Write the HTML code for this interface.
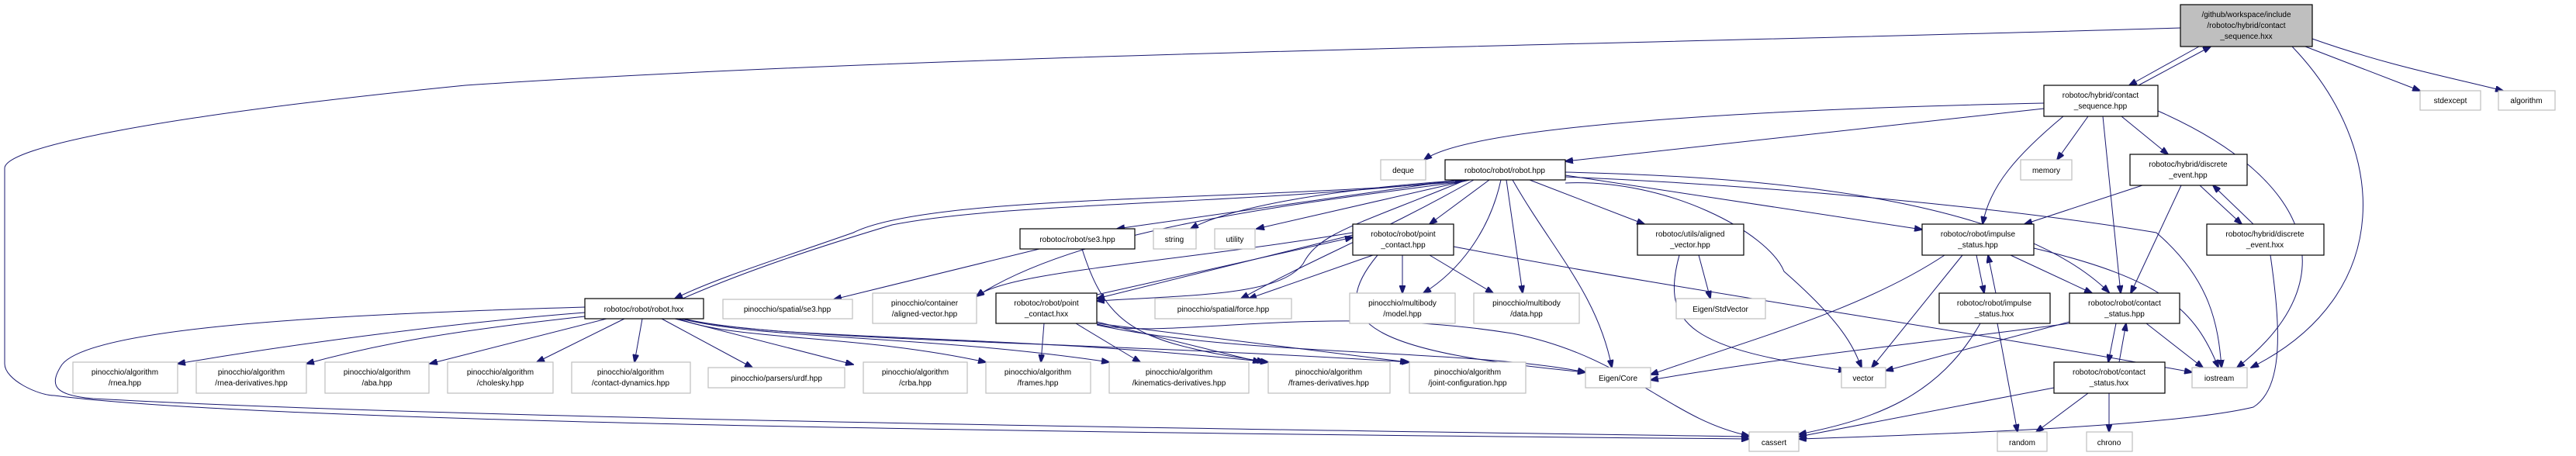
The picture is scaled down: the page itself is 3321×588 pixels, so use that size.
<!DOCTYPE html>
<html><head><meta charset="utf-8"><style>
html,body{margin:0;padding:0;background:#fff;}
svg{display:block;}
text{font-family:"Liberation Sans",Arial,sans-serif;font-size:10px;fill:#000;}
.e{fill:none;stroke:#191970;stroke-width:1;}
.n{fill:#fff;stroke:#000;stroke-width:1.2;}
.g{fill:#fff;stroke:#bfbfbf;stroke-width:1.2;}
</style></head><body>
<svg width="3321" height="588" viewBox="0 0 3321 588" xmlns="http://www.w3.org/2000/svg">
<defs><marker id="a" markerWidth="11" markerHeight="8" refX="10" refY="4" orient="auto" markerUnits="userSpaceOnUse"><path d="M0,0 L11,4 L0,8 z" fill="#191970" stroke="#191970"/></marker></defs>
<g marker-end="url(#a)">
<!-- top node edges -->
<path class="e" d="M2835,60 L2745,110"/>
<path class="e" d="M2757,110 L2850,60"/>
<path class="e" d="M2972,60 L3120,117"/>
<path class="e" d="M2981,50 C3080,85 3160,100 3227,117"/>
<path class="e" d="M2955,60 C3080,190 3090,380 2902,474"/>
<path class="e" d="M2811,36 C2000,60 1200,70 600,110 C200,150 6,190 6,217 L6,469 C6,490 50,510 70,510 C300,540 1100,556 2255,566"/>
<!-- contact_sequence.hpp -->
<path class="e" d="M2635,133 C2300,140 1900,160 1836,206"/>
<path class="e" d="M2635,140 L2018,208"/>
<path class="e" d="M2692,150 L2652,206"/>
<path class="e" d="M2735,150 L2795,199"/>
<path class="e" d="M2660,150 C2600,200 2565,240 2556,289"/>
<path class="e" d="M2711,150 L2734,378"/>
<path class="e" d="M2782,143 C2980,230 3030,360 2884,474"/>
<!-- discrete event -->
<path class="e" d="M2762,239 L2610,289"/>
<path class="e" d="M2812,239 L2747,378"/>
<path class="e" d="M2836,239 L2890,289"/>
<path class="e" d="M2905,289 L2853,239"/>
<path class="e" d="M2927,329 C2940,420 2945,500 2905,525 C2800,550 2500,560 2319,566"/>
<!-- impulse status -->
<path class="e" d="M2548,329 L2558,378"/>
<path class="e" d="M2573,378 L2563,329"/>
<path class="e" d="M2592,329 L2697,378"/>
<path class="e" d="M2530,329 L2413,474"/>
<path class="e" d="M2507,329 C2400,400 2250,440 2128,483"/>
<path class="e" d="M2622,320 C2790,360 2830,400 2860,474"/>
<path class="e" d="M2575,417 L2601,557"/>
<path class="e" d="M2553,417 C2500,510 2420,540 2319,560"/>
<!-- contact status -->
<path class="e" d="M2728,417 L2718,467"/>
<path class="e" d="M2732,467 L2741,417"/>
<path class="e" d="M2767,417 L2840,474"/>
<path class="e" d="M2668,415 L2431,478"/>
<path class="e" d="M2668,417 C2500,440 2300,460 2128,490"/>
<path class="e" d="M2648,500 L2319,563"/>
<path class="e" d="M2692,507 L2625,557"/>
<path class="e" d="M2719,507 L2719,557"/>
<!-- robot.hpp -->
<path class="e" d="M1883,234 C1600,260 1200,250 1100,300 C1000,335 920,360 870,385"/>
<path class="e" d="M880,385 C960,350 1050,320 1150,290 C1300,260 1600,265 1886,232"/>
<path class="e" d="M1880,232 L1440,295"/>
<path class="e" d="M1890,232 C1700,245 1580,270 1535,295"/>
<path class="e" d="M1895,232 L1620,295"/>
<path class="e" d="M1920,232 L1843,289"/>
<path class="e" d="M1890,232 C1750,290 1700,300 1680,340 C1650,380 1550,380 1414,388"/>
<path class="e" d="M1900,232 C1780,300 1700,330 1600,385"/>
<path class="e" d="M1935,232 C1920,300 1880,350 1835,378"/>
<path class="e" d="M1942,232 L1963,378"/>
<path class="e" d="M1950,232 C2000,320 2060,380 2078,474"/>
<path class="e" d="M1972,232 L2120,289"/>
<path class="e" d="M2018,226 L2478,296"/>
<path class="e" d="M2018,222 C2300,228 2600,260 2719,377"/>
<path class="e" d="M2018,228 C2300,240 2600,270 2780,300 C2850,360 2860,420 2864,474"/>
<path class="e" d="M2018,236 C2150,230 2280,300 2300,350 C2380,420 2390,450 2400,474"/>
<path class="e" d="M1886,234 C1700,260 1400,290 1259,382"/>
<!-- robot.hxx fan -->
<path class="e" d="M754,396 C450,405 120,420 80,470 C60,500 75,510 120,514 C600,540 1500,552 2255,563"/>
<path class="e" d="M754,403 C600,415 400,440 229,469"/>
<path class="e" d="M754,408 C600,425 500,440 395,469"/>
<path class="e" d="M782,411 L554,469"/>
<path class="e" d="M805,411 L692,467"/>
<path class="e" d="M828,411 L818,467"/>
<path class="e" d="M853,411 L970,474"/>
<path class="e" d="M870,411 L1100,470"/>
<path class="e" d="M875,411 C950,440 1100,430 1271,467"/>
<path class="e" d="M878,411 C980,438 1200,432 1430,467"/>
<path class="e" d="M880,411 C1000,440 1300,430 1635,467"/>
<path class="e" d="M882,411 C1000,440 1400,440 1817,467"/>
<!-- robot/se3.hpp -->
<path class="e" d="M1340,321 L1075,386"/>
<path class="e" d="M1395,321 C1420,400 1450,430 1540,450 C1580,460 1610,462 1630,467"/>
<!-- point_contact.hpp -->
<path class="e" d="M1744,300 C1500,340 1300,350 1259,382"/>
<path class="e" d="M1744,303 L1414,385"/>
<path class="e" d="M1414,380 L1744,306"/>
<path class="e" d="M1770,329 L1610,385"/>
<path class="e" d="M1808,329 L1808,378"/>
<path class="e" d="M1843,329 L1925,378"/>
<path class="e" d="M1776,329 C1700,420 1780,455 2044,480"/>
<path class="e" d="M1874,318 C2200,380 2500,420 2826,480"/>
<!-- point_contact.hxx -->
<path class="e" d="M1346,417 L1342,467"/>
<path class="e" d="M1387,417 L1470,467"/>
<path class="e" d="M1414,415 L1625,467"/>
<path class="e" d="M1414,417 L1815,467"/>
<path class="e" d="M1414,419 C1600,460 1900,450 2044,480"/>
<path class="e" d="M1414,418 C1500,440 1700,390 1950,430 C2100,460 2150,540 2255,562"/>
<!-- aligned vector utils -->
<path class="e" d="M2190,329 L2205,385"/>
<path class="e" d="M2165,329 C2140,420 2180,450 2380,478"/>
</g>
<!-- nodes -->
<rect x="2811" y="6" width="170" height="54" fill="#bfbfbf" stroke="#000" stroke-width="1.2"/>
<text x="2896" y="22" text-anchor="middle">/github/workspace/include</text>
<text x="2896" y="36" text-anchor="middle">/robotoc/hybrid/contact</text>
<text x="2896" y="50" text-anchor="middle">_sequence.hxx</text>
<rect class="n" x="2635" y="110" width="147" height="40"/><text x="2708" y="126" text-anchor="middle">robotoc/hybrid/contact</text><text x="2708" y="140" text-anchor="middle">_sequence.hpp</text>
<rect class="g" x="3120" y="117" width="78" height="25"/><text x="3159" y="133" text-anchor="middle">stdexcept</text>
<rect class="g" x="3221" y="117" width="73" height="25"/><text x="3257" y="133" text-anchor="middle">algorithm</text>
<rect class="g" x="1780" y="206" width="58" height="26"/><text x="1809" y="223" text-anchor="middle">deque</text>
<rect class="n" x="1863" y="206" width="155" height="26"/><text x="1940" y="223" text-anchor="middle">robotoc/robot/robot.hpp</text>
<rect class="g" x="2605" y="206" width="66" height="26"/><text x="2638" y="223" text-anchor="middle">memory</text>
<rect class="n" x="2746" y="199" width="151" height="40"/><text x="2821" y="215" text-anchor="middle">robotoc/hybrid/discrete</text><text x="2821" y="229" text-anchor="middle">_event.hpp</text>
<rect class="n" x="1315" y="295" width="148" height="26"/><text x="1389" y="312" text-anchor="middle">robotoc/robot/se3.hpp</text>
<rect class="g" x="1487" y="295" width="55" height="26"/><text x="1514" y="312" text-anchor="middle">string</text>
<rect class="g" x="1566" y="295" width="52" height="26"/><text x="1592" y="312" text-anchor="middle">utility</text>
<rect class="n" x="1744" y="289" width="130" height="40"/><text x="1809" y="305" text-anchor="middle">robotoc/robot/point</text><text x="1809" y="319" text-anchor="middle">_contact.hpp</text>
<rect class="n" x="2111" y="289" width="137" height="40"/><text x="2179" y="305" text-anchor="middle">robotoc/utils/aligned</text><text x="2179" y="319" text-anchor="middle">_vector.hpp</text>
<rect class="n" x="2478" y="289" width="144" height="40"/><text x="2550" y="305" text-anchor="middle">robotoc/robot/impulse</text><text x="2550" y="319" text-anchor="middle">_status.hpp</text>
<rect class="n" x="2845" y="289" width="151" height="40"/><text x="2920" y="305" text-anchor="middle">robotoc/hybrid/discrete</text><text x="2920" y="319" text-anchor="middle">_event.hxx</text>
<rect class="n" x="754" y="385" width="153" height="26"/><text x="830" y="402" text-anchor="middle">robotoc/robot/robot.hxx</text>
<rect class="g" x="932" y="386" width="167" height="25"/><text x="1015" y="402" text-anchor="middle">pinocchio/spatial/se3.hpp</text>
<rect class="g" x="1125" y="378" width="134" height="39"/><text x="1192" y="394" text-anchor="middle">pinocchio/container</text><text x="1192" y="408" text-anchor="middle">/aligned-vector.hpp</text>
<rect class="n" x="1284" y="378" width="130" height="39"/><text x="1349" y="394" text-anchor="middle">robotoc/robot/point</text><text x="1349" y="408" text-anchor="middle">_contact.hxx</text>
<rect class="g" x="1489" y="385" width="176" height="26"/><text x="1577" y="402" text-anchor="middle">pinocchio/spatial/force.hpp</text>
<rect class="g" x="1740" y="378" width="136" height="39"/><text x="1808" y="394" text-anchor="middle">pinocchio/multibody</text><text x="1808" y="408" text-anchor="middle">/model.hpp</text>
<rect class="g" x="1900" y="378" width="136" height="39"/><text x="1968" y="394" text-anchor="middle">pinocchio/multibody</text><text x="1968" y="408" text-anchor="middle">/data.hpp</text>
<rect class="g" x="2161" y="385" width="115" height="26"/><text x="2218" y="402" text-anchor="middle">Eigen/StdVector</text>
<rect class="n" x="2500" y="378" width="143" height="39"/><text x="2571" y="394" text-anchor="middle">robotoc/robot/impulse</text><text x="2571" y="408" text-anchor="middle">_status.hxx</text>
<rect class="n" x="2668" y="378" width="142" height="39"/><text x="2739" y="394" text-anchor="middle">robotoc/robot/contact</text><text x="2739" y="408" text-anchor="middle">_status.hpp</text>
<g text-anchor="middle">
<rect class="g" x="94" y="467" width="135" height="40"/><text x="161" y="483">pinocchio/algorithm</text><text x="161" y="497">/rnea.hpp</text>
<rect class="g" x="253" y="467" width="142" height="40"/><text x="324" y="483">pinocchio/algorithm</text><text x="324" y="497">/rnea-derivatives.hpp</text>
<rect class="g" x="419" y="467" width="134" height="40"/><text x="486" y="483">pinocchio/algorithm</text><text x="486" y="497">/aba.hpp</text>
<rect class="g" x="577" y="467" width="136" height="40"/><text x="645" y="483">pinocchio/algorithm</text><text x="645" y="497">/cholesky.hpp</text>
<rect class="g" x="737" y="467" width="153" height="40"/><text x="813" y="483">pinocchio/algorithm</text><text x="813" y="497">/contact-dynamics.hpp</text>
<rect class="g" x="913" y="474" width="176" height="26"/><text x="1001" y="491">pinocchio/parsers/urdf.hpp</text>
<rect class="g" x="1113" y="467" width="134" height="40"/><text x="1180" y="483">pinocchio/algorithm</text><text x="1180" y="497">/crba.hpp</text>
<rect class="g" x="1271" y="467" width="135" height="40"/><text x="1338" y="483">pinocchio/algorithm</text><text x="1338" y="497">/frames.hpp</text>
<rect class="g" x="1430" y="467" width="180" height="40"/><text x="1520" y="483">pinocchio/algorithm</text><text x="1520" y="497">/kinematics-derivatives.hpp</text>
<rect class="g" x="1635" y="467" width="157" height="40"/><text x="1713" y="483">pinocchio/algorithm</text><text x="1713" y="497">/frames-derivatives.hpp</text>
<rect class="g" x="1817" y="467" width="150" height="40"/><text x="1892" y="483">pinocchio/algorithm</text><text x="1892" y="497">/joint-configuration.hpp</text>
<rect class="g" x="2044" y="474" width="84" height="26"/><text x="2086" y="491">Eigen/Core</text>
<rect class="g" x="2374" y="474" width="57" height="26"/><text x="2402" y="491">vector</text>
<rect class="g" x="2826" y="474" width="71" height="26"/><text x="2861" y="491">iostream</text>
<rect class="n" x="2648" y="467" width="143" height="40"/><text x="2719" y="483">robotoc/robot/contact</text><text x="2719" y="497">_status.hxx</text>
<rect class="g" x="2255" y="557" width="64" height="25"/><text x="2287" y="574">cassert</text>
<rect class="g" x="2575" y="557" width="64" height="25"/><text x="2607" y="574">random</text>
<rect class="g" x="2690" y="557" width="59" height="25"/><text x="2719" y="574">chrono</text>
</g>
</svg>
</body></html>
